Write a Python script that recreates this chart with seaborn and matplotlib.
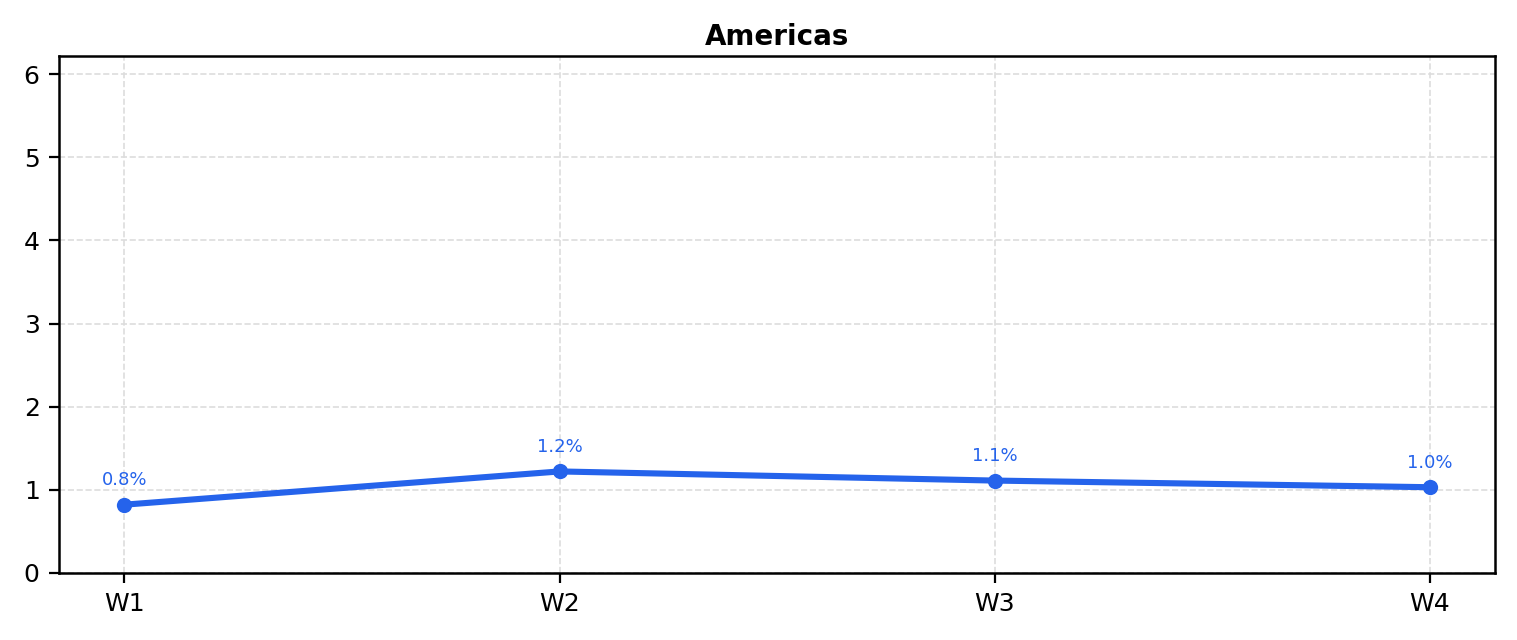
import matplotlib
matplotlib.use("Agg")
import matplotlib.pyplot as plt
import seaborn as sns
import pandas as pd

weeks = ["W1", "W2", "W3", "W4"]
values = [0.82, 1.22, 1.11, 1.03]
labels = ["0.8%", "1.2%", "1.1%", "1.0%"]
title = "Americas"
color = "#2563EB"

sns.set_style("ticks", {"axes.edgecolor": "black", "text.color": "black",
                        "xtick.color": "black", "ytick.color": "black",
                        "axes.labelcolor": "black"})
plt.rcParams['font.family'] = ['DejaVu Sans']

df = pd.DataFrame({"week": weeks, "value": values})
fig, ax = plt.subplots(figsize=(7.585, 3.2), dpi=200)
sns.lineplot(data=df, x="week", y="value", ax=ax, color=color, linewidth=2.2,
             marker="o", markersize=5.5, markeredgewidth=0, sort=False)
for i, (v, t) in enumerate(zip(values, labels)):
    ax.annotate(t, (i, v), xytext=(0, 5.5), textcoords="offset points",
                ha="center", va="bottom", fontsize=6.5, color=color)
ax.set_xlim(-0.15, 3.15)
ax.set_ylim(0, 6.22)
ax.set_xlabel("")
ax.set_ylabel("")
ax.set_title(title, fontsize=10, fontweight="bold", color="black", pad=4)
ax.grid(True, linestyle="--", color="#dddddd", linewidth=0.6)
for s in ax.spines.values():
    s.set_visible(True)
    s.set_linewidth(0.9)
    s.set_color("black")
ax.tick_params(labelsize=9, colors="black")
fig.subplots_adjust(left=0.039, right=0.9855, top=0.9125, bottom=0.105)
fig.savefig("out.png", dpi=200)
